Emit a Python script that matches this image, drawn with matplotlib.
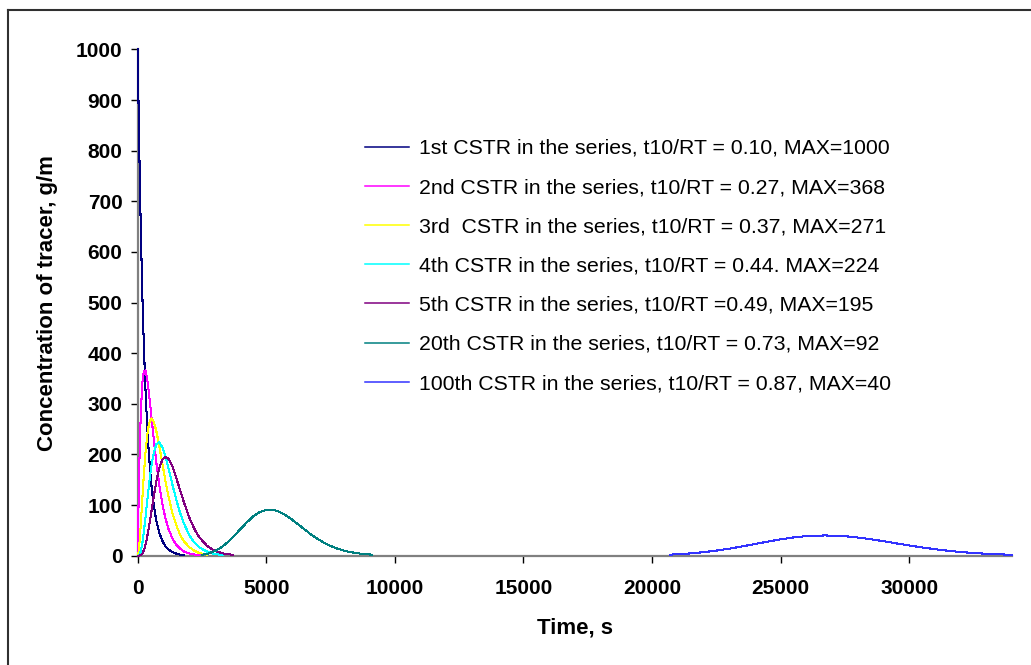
import matplotlib
matplotlib.use("Agg")
import matplotlib.pyplot as plt
import numpy as np
from matplotlib.lines import Line2D

plt.rcParams['font.family'] = ['Liberation Sans', 'DejaVu Sans']

# time grid (s) shared by the first five tanks
t_early = [0, 30, 60, 120, 180, 240, 300, 360, 420, 480, 540, 600, 720, 840, 960,
           1080, 1200, 1350, 1500, 1650, 1800, 2000, 2200, 2400, 2700, 3000, 3300, 3700]

c_1st = [1000, 895, 801, 641, 513, 411, 329, 264, 211, 169, 135, 108, 69, 45, 29,
         18, 12, 7, 4, 2, 1, None, None, None, None, None, None, None]
c_2nd = [0, 99, 178, 285, 342, 365, 366, 351, 328, 300, 271, 241, 185, 139, 102,
         73, 52, 34, 21, 14, 8, 4.5, 2.4, 1.2, None, None, None, None]
c_3rd = [0, 5.5, 20, 63, 114, 162, 203, 234, 255, 267, 271, 268, 247, 216, 181,
         147, 116, 84, 60, 41, 28, 17, 10, 5, 2, None, None, None]
c_4th = [0, 0.2, 1.5, 9, 25, 48, 75, 104, 132, 158, 180, 198, 220, 224, 214,
         195, 172, 140, 110, 84, 63, 41, 26, 16, 8, 3, 1.5, None]
c_5th = [0, 0, 0.1, 1, 4, 11, 21, 35, 52, 70, 90, 110, 146, 174, 190,
         195, 191, 176, 153, 129, 105, 76, 53, 36, 19, 9.5, 4.6, 1.6]

t_20th = [2500, 2750, 3000, 3250, 3500, 3750, 4000, 4250, 4500, 4750, 5000, 5130, 5250,
          5500, 5750, 6000, 6250, 6500, 6750, 7000, 7250, 7500, 7750, 8000, 8250,
          8500, 8750, 9100]
c_20th = [1.8, 4.4, 9.1, 16.5, 26.7, 39.2, 52.9, 66.3, 77.9, 86.3, 90.5, 91, 90.6,
          87.0, 80.1, 71.3, 61.3, 51.3, 41.5, 32.9, 25.4, 19.1, 14.1, 10.2, 7.3,
          5.1, 3.5, 2.0]

t_100th = [20700, 21500, 22000, 22500, 23000, 23500, 24000, 24500, 25000, 25500, 26000,
           26730, 27500, 28000, 28500, 29000, 29500, 30000, 30500, 31000, 31500, 32000,
           32500, 33000, 33500, 34000]
c_100th = [2.0, 4.5, 6.9, 10.0, 13.8, 18.2, 23.0, 27.8, 32.3, 36.0, 38.6,
           40.0, 38.5, 35.9, 32.5, 28.6, 24.3, 20.2, 16.3, 12.8, 9.8, 7.3,
           5.3, 3.8, 2.6, 1.8]

labels = [
    "1st CSTR in the series, t10/RT = 0.10, MAX=1000",
    "2nd CSTR in the series, t10/RT = 0.27, MAX=368",
    "3rd  CSTR in the series, t10/RT = 0.37, MAX=271",
    "4th CSTR in the series, t10/RT = 0.44. MAX=224",
    "5th CSTR in the series, t10/RT =0.49, MAX=195",
    "20th CSTR in the series, t10/RT = 0.73, MAX=92",
    "100th CSTR in the series, t10/RT = 0.87, MAX=40",
]
colors = ["#000080", "#FF00FF", "#FFFF00", "#00FFFF", "#800080", "#008080", "#3333FF"]

series = [
    (t_early, c_1st), (t_early, c_2nd), (t_early, c_3rd), (t_early, c_4th),
    (t_early, c_5th), (t_20th, c_20th), (t_100th, c_100th),
]

fig = plt.figure(figsize=(10.31, 6.65), dpi=100)
ax = fig.add_axes([0.1336, 0.1644, 0.848, 0.7612])

for (t, c), col, lab in zip(series, colors, labels):
    y = [v if v is not None else np.nan for v in c]
    ax.plot(t, y, color=col, lw=0.75, label=lab, antialiased=False, clip_on=False,
            zorder=3)

ax.set_xlim(0, 34000)
ax.set_ylim(0, 1000)
ax.set_xticks(range(0, 30001, 5000))
ax.set_yticks(range(0, 1001, 100))

for side in ["top", "right"]:
    ax.spines[side].set_visible(False)
for side in ["left", "bottom"]:
    ax.spines[side].set_color("#808080")
    ax.spines[side].set_linewidth(1.6)

ax.tick_params(axis="y", direction="out", length=5, width=1, color="black",
               labelsize=15, pad=6)
ax.tick_params(axis="x", direction="out", length=5, width=1, color="black",
               labelsize=15, pad=12)
for lbl in ax.get_xticklabels() + ax.get_yticklabels():
    lbl.set_fontweight("bold")

ax.set_xlabel("Time, s", fontsize=16, fontweight="bold", labelpad=14)
ax.set_ylabel("Concentration of tracer, g/m", fontsize=16, fontweight="bold", labelpad=13)

leg = ax.legend(loc="upper left", bbox_to_anchor=(365 / 1031, 1 - 139 / 665),
                bbox_transform=fig.transFigure, frameon=False, fontsize=15.3,
                borderpad=0, borderaxespad=0, handlelength=2.05, handletextpad=0.5,
                labelspacing=0.95)
for h in leg.get_lines():
    h.set_antialiased(True)
    h.set_linewidth(1.1)

# outer frame (left and top edges are visible in the original)
fig.add_artist(Line2D([8 / 1031, 8 / 1031], [0, 1 - 10 / 665], color="#303030", lw=1.5,
                      transform=fig.transFigure))
fig.add_artist(Line2D([8 / 1031, 1], [1 - 10 / 665, 1 - 10 / 665], color="#303030", lw=1.5,
                      transform=fig.transFigure))

fig.savefig("out.png", dpi=100)
